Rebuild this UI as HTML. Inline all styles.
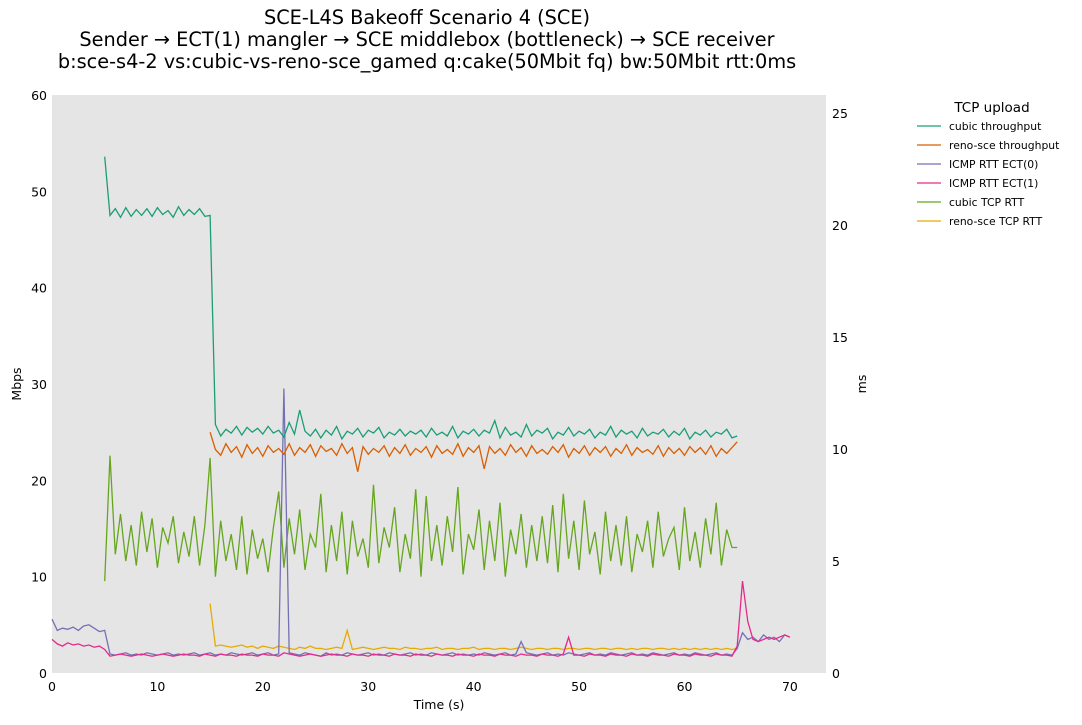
<!DOCTYPE html>
<html><head><meta charset="utf-8"><style>
body{margin:0;background:#fff;width:1082px;height:721px;overflow:hidden;font-family:"DejaVu Sans",sans-serif}
svg text{font-family:"DejaVu Sans","Liberation Sans",sans-serif}
</style></head><body>
<svg id="chart" width="1082" height="721" xmlns="http://www.w3.org/2000/svg">
<g font-size="19.3" text-anchor="middle" fill="#000">
<text x="427" y="24">SCE-L4S Bakeoff Scenario 4 (SCE)</text>
<text x="427" y="46">Sender → ECT(1) mangler → SCE middlebox (bottleneck) → SCE receiver</text>
<text x="427" y="68">b:sce-s4-2 vs:cubic-vs-reno-sce_gamed q:cake(50Mbit fq) bw:50Mbit rtt:0ms</text>
</g>
<rect x="52" y="95" width="774" height="578" fill="#e5e5e5"/>
<g id="marks"></g>
<g id="axes" font-size="12.5" fill="#000"></g>
<text x="21" y="384" font-size="12.5" text-anchor="middle" transform="rotate(-90 21 384)">Mbps</text>
<text x="866" y="384" font-size="12.5" text-anchor="middle" transform="rotate(-90 866 384)">ms</text>
<text x="439" y="709" font-size="12.5" text-anchor="middle">Time (s)</text>
<g id="legend">
<text x="992" y="112" font-size="13.5" text-anchor="middle">TCP upload</text>
</g>
</svg>
<script>
const xTicks=[0,10,20,30,40,50,60,70];
const yLeftTicks=[0,10,20,30,40,50,60];
const yRightTicks=[0,5,10,15,20,25];
const seriesNames=["cubic throughput","reno-sce throughput","ICMP RTT ECT(0)","ICMP RTT ECT(1)","cubic TCP RTT","reno-sce TCP RTT"];
const seriesColors=["#1b9e77","#d95f02","#7570b3","#e7298a","#66a61e","#e6ab02"];
const seriesStart=[5.0,15.0,0,0,5.0,15.0];
const step=0.5;
const cubicTput=[53.6,47.5,48.2,47.3,48.3,47.4,48.1,47.5,48.2,47.4,48.3,47.6,48.0,47.3,48.4,47.5,48.1,47.6,48.2,47.4,47.5,
25.8,24.6,25.3,24.9,25.6,24.7,25.5,25.0,25.4,24.8,25.6,24.9,25.2,24.5,26.0,24.8,27.3,25.1,24.6,25.3,24.4,25.2,24.7,25.6,24.3,25.1,24.8,25.4,24.5,25.2,24.9,25.5,24.4,25.0,24.7,25.3,24.6,25.1,24.8,25.2,24.5,25.4,24.7,25.0,24.6,25.6,24.4,25.1,24.8,25.3,24.6,25.2,24.9,26.2,24.4,25.5,24.7,25.0,24.5,25.8,24.6,25.2,24.9,25.4,24.3,25.0,24.7,25.5,24.6,25.1,24.8,25.3,24.4,25.0,24.7,25.6,24.5,25.2,24.8,25.1,24.4,25.4,24.6,25.0,24.8,25.3,24.5,25.1,24.7,25.4,24.3,25.0,24.7,25.2,24.5,25.0,24.8,25.3,24.4,24.6];
const renoTput=[25.0,23.2,22.6,23.8,22.9,23.5,22.4,23.7,22.8,23.4,22.5,23.6,22.9,23.3,22.7,23.8,22.6,23.4,22.9,23.7,22.5,23.6,23.0,23.3,22.6,23.8,22.8,23.4,20.9,23.5,22.7,23.3,22.9,23.6,22.5,23.4,22.8,23.7,22.6,23.3,22.9,23.5,22.4,23.6,22.8,23.2,22.7,23.8,22.5,23.4,22.9,23.6,21.2,23.5,22.8,23.3,22.6,23.7,22.9,23.4,22.5,23.6,22.8,23.2,22.7,23.5,22.9,23.7,22.4,23.3,22.8,23.6,22.6,23.4,22.9,23.5,22.5,23.3,22.8,23.7,22.6,23.4,22.9,23.2,22.7,23.6,22.5,23.4,22.8,23.3,22.6,23.5,22.9,23.4,22.7,23.6,22.5,23.3,22.8,23.4,24.0];
const icmp0=[2.4,1.9,2.0,1.95,2.05,1.9,2.1,2.15,2.0,1.85,
1.9,0.85,0.8,0.85,0.9,0.8,0.85,0.8,0.9,0.85,
0.8,0.85,0.9,0.8,0.85,0.8,0.85,0.9,0.8,0.85,
0.9,0.8,0.85,0.8,0.9,0.85,0.8,0.85,0.9,0.8,
0.85,0.9,0.8,0.85,12.7,0.9,0.85,0.8,0.9,0.85,
0.8,0.75,0.9,0.8,0.85,0.8,0.9,0.85,0.8,0.85,
0.9,0.8,0.85,0.8,0.9,0.85,0.8,0.85,0.9,0.8,
0.85,0.8,0.9,0.85,0.8,0.85,0.9,0.8,0.85,0.8,
0.85,0.8,0.9,0.85,0.8,0.85,0.9,0.8,0.85,1.4,
0.9,0.85,0.8,0.85,0.9,0.8,0.85,0.8,0.9,0.85,
0.8,0.85,0.9,0.8,0.85,0.8,0.9,0.85,0.8,0.85,
0.9,0.8,0.85,0.8,0.9,0.85,0.8,0.85,0.9,0.8,
0.85,0.8,0.9,0.85,0.8,0.85,0.9,0.8,0.85,0.8,
1.1,1.8,1.5,1.6,1.4,1.7,1.5,1.6,1.4,1.7,1.6];
const icmp1=[1.5,1.3,1.2,1.35,1.25,1.3,1.2,1.25,1.15,1.2,
1.05,0.75,0.8,0.85,0.8,0.75,0.8,0.85,0.8,0.75,
0.8,0.85,0.8,0.75,0.8,0.85,0.8,0.8,0.75,0.85,
0.8,0.75,0.85,0.8,0.8,0.75,0.85,0.8,0.8,0.75,
0.85,0.8,0.8,0.75,0.9,0.85,0.8,0.75,0.8,0.85,
0.8,0.75,0.8,0.85,0.8,0.8,0.75,0.85,0.8,0.8,
0.75,0.85,0.8,0.8,0.75,0.85,0.8,0.8,0.75,0.85,
0.8,0.8,0.75,0.85,0.8,0.8,0.75,0.85,0.8,0.8,
0.75,0.85,0.8,0.8,0.75,0.85,0.8,0.8,0.75,0.85,
0.8,0.8,0.75,0.85,0.8,0.8,0.75,0.85,1.6,0.8,
0.8,0.75,0.85,0.8,0.8,0.75,0.85,0.8,0.8,0.75,
0.85,0.8,0.8,0.75,0.85,0.8,0.8,0.75,0.85,0.8,
0.8,0.75,0.85,0.8,0.8,0.75,0.85,0.8,0.8,0.75,
1.2,4.1,2.3,1.5,1.4,1.5,1.6,1.5,1.6,1.7,1.6];
const cubicRtt=[4.1,9.7,5.3,7.1,5.0,6.6,4.8,7.2,5.4,6.9,4.7,6.5,5.8,7.0,4.9,6.3,5.2,7.0,4.8,6.6,9.6,4.3,6.8,5.0,6.2,4.6,7.0,4.4,6.4,5.1,6.0,4.5,6.5,8.1,4.7,6.9,5.3,7.3,4.6,6.2,5.6,8.0,4.5,6.6,5.0,7.2,4.4,6.8,5.2,6.0,4.7,8.4,4.9,6.5,5.6,7.4,4.5,6.2,5.1,8.2,4.3,7.9,5.0,6.6,4.8,7.0,5.4,8.3,4.4,6.2,5.5,7.3,4.6,6.8,5.0,7.6,4.3,6.4,5.3,7.1,4.7,6.6,5.0,7.0,4.9,7.5,4.5,8.0,5.1,6.8,4.6,7.7,5.3,6.3,4.4,7.2,5.0,6.6,4.8,7.0,4.5,6.2,5.4,6.8,4.7,7.2,5.2,6.0,6.5,4.6,7.4,5.0,6.3,4.7,6.9,5.3,7.6,4.8,6.4,5.6,5.6];
const renoRtt=[3.1,1.2,1.25,1.2,1.15,1.2,1.25,1.15,1.2,1.1,1.2,1.15,1.1,1.2,1.15,1.1,1.05,1.15,1.1,1.2,1.1,1.1,1.05,1.1,1.15,1.1,1.9,1.05,1.1,1.15,1.1,1.05,1.1,1.15,1.1,1.1,1.05,1.15,1.1,1.1,1.05,1.1,1.1,1.15,1.05,1.1,1.1,1.05,1.1,1.1,1.15,1.05,1.1,1.1,1.05,1.1,1.1,1.05,1.1,1.15,1.1,1.05,1.1,1.1,1.05,1.1,1.1,1.05,1.1,1.1,1.05,1.1,1.1,1.05,1.1,1.1,1.05,1.1,1.1,1.05,1.1,1.05,1.1,1.1,1.05,1.1,1.1,1.05,1.1,1.05,1.1,1.05,1.1,1.05,1.1,1.05,1.1,1.05,1.1,1.05,1.1];

const X0=52,X1=826,Y0=673,Y1=95;
const xMax=73.42, yLMax=60, yRMax=25.8;
const xs=t=>X0+t/xMax*(X1-X0);
const yL=v=>Y0-v/yLMax*(Y0-Y1);
const yR=v=>Y0-v/yRMax*(Y0-Y1);
const NS="http://www.w3.org/2000/svg";
const series=[[cubicTput,yL],[renoTput,yL],[icmp0,yR],[icmp1,yR],[cubicRtt,yR],[renoRtt,yR]];
const order=[4,5,2,3,0,1];
const marks=document.getElementById('marks');
order.forEach(k=>{
  const [vals,yf]=series[k];
  const d=vals.map((v,i)=>(i?'L':'M')+xs(seriesStart[k]+i*step).toFixed(1)+','+yf(v).toFixed(1)).join('');
  const p=document.createElementNS(NS,'path');
  p.setAttribute('d',d);p.setAttribute('fill','none');p.setAttribute('stroke',seriesColors[k]);p.setAttribute('stroke-width','1.3');
  
  
  marks.appendChild(p);
});
const axes=document.getElementById('axes');
function txt(x,y,s,anchor){const t=document.createElementNS(NS,'text');t.setAttribute('x',x);t.setAttribute('y',y);t.setAttribute('text-anchor',anchor);t.textContent=s;axes.appendChild(t);return t;}
xTicks.forEach(v=>{const t=txt(xs(v),691,v,'middle');
  
  });
yLeftTicks.forEach(v=>{const t=txt(47,yL(v)+5,v,'end');
  
  });
yRightTicks.forEach(v=>{const t=txt(832,yR(v)+5,v,'start');
  
  });
const lg=document.getElementById('legend');
seriesNames.forEach((n,i)=>{
  const y=126+i*19;
  const l=document.createElementNS(NS,'line');
  l.setAttribute('x1',917);l.setAttribute('x2',941);l.setAttribute('y1',y);l.setAttribute('y2',y);
  l.setAttribute('stroke',seriesColors[i]);l.setAttribute('stroke-width','1.3');
  
  
  lg.appendChild(l);
  const t=document.createElementNS(NS,'text');
  t.setAttribute('x',949);t.setAttribute('y',y+4);t.setAttribute('font-size','10.8');t.textContent=n;
  
  
  lg.appendChild(t);
});
</script>
</body></html>
